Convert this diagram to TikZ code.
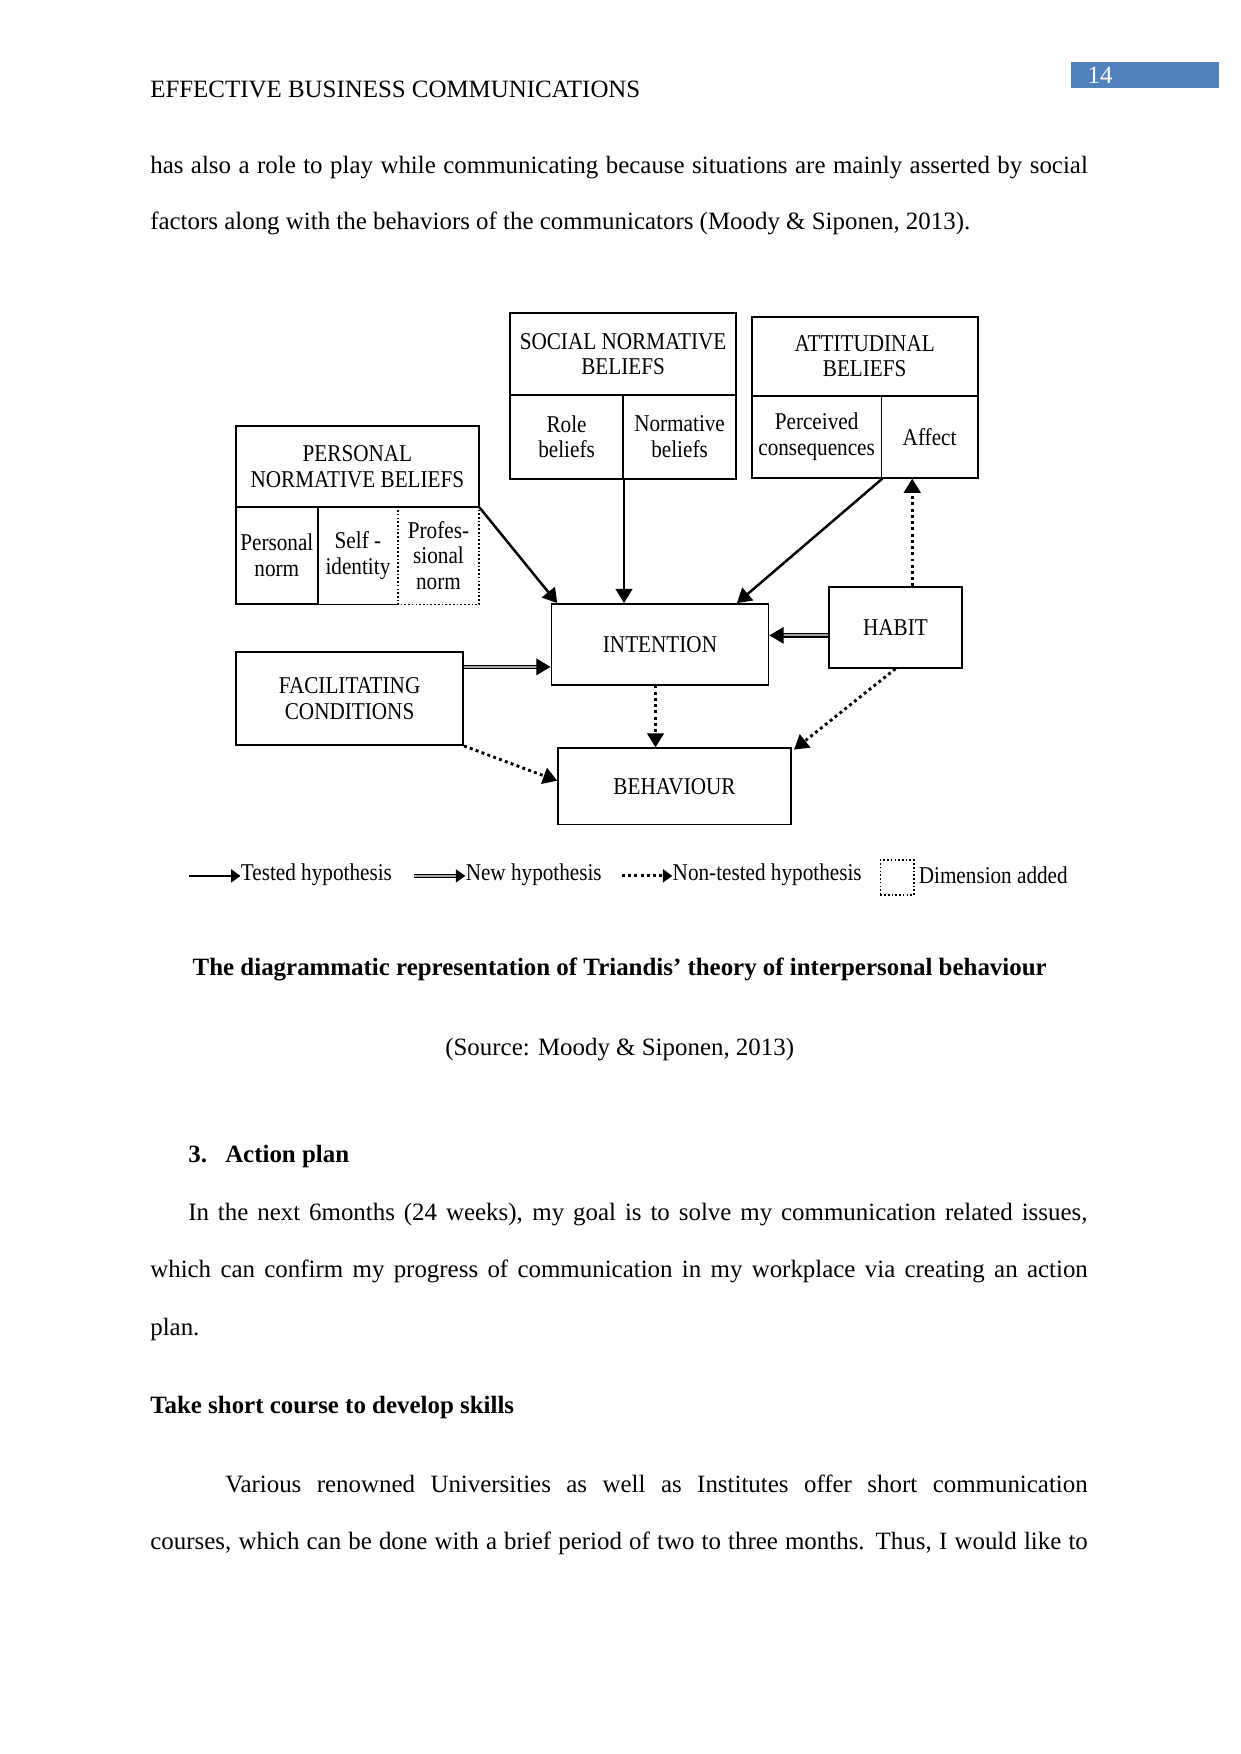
\documentclass[tikz,border=0pt]{standalone}
\usepackage{fontspec}
\setmainfont{Liberation Serif}
\newfontfamily\figfont[FakeStretch=0.88]{Liberation Serif}
\usetikzlibrary{arrows.meta,calc}
\definecolor{pageblue}{HTML}{4F81BD}
\newcommand{\fillline}[2]{\makebox[#1][s]{#2}}
\tikzset{sz/.style 2 args={minimum width=#1*0.18936mm,minimum height=#2*0.18936mm}}

\begin{document}
\begin{tikzpicture}[x=0.18936mm,y=-0.18936mm,
  txt/.style={inner sep=0pt,anchor=base west,font=\fontsize{12}{14}\selectfont},
  bx/.style={draw,line width=0.9pt,inner sep=0pt,align=center,font=\figfont\fontsize{11.6}{12.4}\selectfont},
  cell/.style={inner sep=0pt,align=center,font=\figfont\fontsize{11.6}{12.4}\selectfont},
  frame/.style={line width=0.9pt},
  dimline/.style={line width=0.8pt,dash pattern=on 0.8pt off 1pt},
  tip/.style={-{Triangle[length=2.4mm,width=2.8mm]}},
  tested/.style={tip,line width=1.2pt},
  newhyp/.style={tip,line width=0.6pt,double=black!35,double distance=0.9pt},
  nontested/.style={tip,line width=1.4pt,dash pattern=on 1.4pt off 1.6pt},
  legtip/.style={-{Triangle[length=1.6mm,width=2.2mm]}},
  leg/.style={inner sep=0pt,anchor=west,font=\figfont\fontsize{11.6}{12.4}\selectfont}]
\useasboundingbox[fill=white] (0,0) rectangle (1109,1568);

% page head
\node[txt] (head) at (134,87) {EFFECTIVE BUSINESS COMMUNICATIONS};
\fill[pageblue] (957,55) rectangle (1090,79);
\node[txt,text=white] (pg) at (972,75) {14};

\node[txt] (p1) at (134,155) {\fillline{158.7mm}{has also a role to play while communicating because situations are mainly asserted by social}};
\node[txt] (p2) at (134,205) {factors along with the behaviors of the communicators (Moody \& Siponen, 2013).};

% belief boxes
\node[bx,sz={202}{73}] (snb) at (557,316.5) {SOCIAL NORMATIVE\\BELIEFS};
\node[bx,sz={101}{75}] (rb) at (506.5,390.5) {Role\\beliefs};
\node[bx,sz={101}{75}] (nb) at (607.5,390.5) {Normative\\beliefs};
\node[bx,sz={202}{71}] (att) at (773,318.5) {ATTITUDINAL\\BELIEFS};
\node[bx,sz={116}{73}] (pc) at (730,390.5) {Perceived\\consequences};
\node[bx,sz={86}{73}] (aff) at (831,390.5) {Affect};
\node[bx,sz={217}{72}] (pnb) at (319.5,417) {PERSONAL\\NORMATIVE BELIEFS};
\node[bx,sz={73}{87}] (pn) at (247.5,496.5) {Personal\\norm};
\node[cell,sz={72}{87}] (sid) at (320,496.5) {Self -\\identity};
\node[cell,sz={72}{87}] (pf) at (392,496.5) {Profes-\\sional\\norm};
\draw[frame] (sid.south west) -- (sid.south east);
\draw[dimline] (pf.north west) -- (pf.south west) -- (pf.south east) -- (pf.north east);

% main boxes
\node[bx,sz={194}{72}] (int) at (590,576) {INTENTION};
\node[bx,sz={119}{72}] (hab) at (800.5,561) {HABIT};
\node[bx,sz={203}{83}] (fac) at (312.5,624.5) {FACILITATING\\CONDITIONS};
\node[bx,sz={208}{68}] (beh) at (603,703) {BEHAVIOUR};

% hypotheses
\draw[tested] (pnb.south east) -- ($(int.north west)+(6,0)$);
\draw[tested] (rb.south east) -- (rb.south east |- int.north);
\draw[tested] (pc.south east) -- ($(int.north east)+(-29,0)$);
\coordinate (h1) at ($(hab.north)+(15,0)$);
\draw[nontested] (h1) -- (h1 |- aff.south);
\coordinate (h2) at ($(hab.west)+(0,7)$);
\draw[newhyp] (h2) -- (h2 -| int.east);
\coordinate (f1) at ($(fac.north east)+(0,14)$);
\draw[newhyp] (f1) -- (f1 -| int.west);
\coordinate (i1) at ($(int.south)+(-4,0)$);
\draw[nontested] (i1) -- (i1 |- beh.north);
\draw[nontested] (hab.south) -- ($(beh.north east)+(2,2)$);
\draw[nontested] (fac.south east) -- ($(beh.west)+(0,-5)$);

% legend
\node[leg] (lt) at (215,782) {Tested hypothesis};
\node[leg] (ln) at (416,782) {New hypothesis};
\node[leg] (lnt) at (601,782) {Non-tested hypothesis};
\node[dimline,draw,inner sep=0pt,sz={30}{31}] (dsq) at (802,784.5) {};
\node[leg] (ld) at (821,782) {Dimension added};
\coordinate (l1) at (169,783);
\coordinate (l2) at (370,783);
\coordinate (l3) at (556,783);
\draw[tested,legtip] (l1) -- (l1 -| lt.west);
\draw[newhyp,legtip] (l2) -- (l2 -| ln.west);
\draw[nontested,legtip] (l3) -- (l3 -| lnt.west);

% caption and text
\node[txt,anchor=base,font=\bfseries\fontsize{12}{14}\selectfont] (cap) at (554,872) {The diagrammatic representation of Triandis’ theory of interpersonal behaviour};
\node[txt,anchor=base] (src) at (554,944) {(Source: Moody \& Siponen, 2013)};
\node[txt,font=\bfseries\fontsize{12}{14}\selectfont] (sec) at (168,1039) {3.};
\node[txt,font=\bfseries\fontsize{12}{14}\selectfont] (sect) at (201,1039) {Action plan};
\node[txt] (q1) at (168,1091) {\fillline{152.2mm}{In the next 6months (24 weeks), my goal is to solve my communication related issues,}};
\node[txt] (q2) at (134,1142) {\fillline{158.7mm}{which can confirm my progress of communication in my workplace via creating an action}};
\node[txt] (q3) at (134,1194) {plan.};
\node[txt,font=\bfseries\fontsize{12}{14}\selectfont] (sub) at (134,1264) {Take short course to develop skills};
\node[txt] (r1) at (201,1334) {\fillline{146.0mm}{Various renowned Universities as well as Institutes offer short communication}};
\node[txt] (r2) at (134,1385) {\fillline{158.7mm}{courses, which can be done with a brief period of two to three months. Thus, I would like to}};
\end{tikzpicture}
\end{document}
